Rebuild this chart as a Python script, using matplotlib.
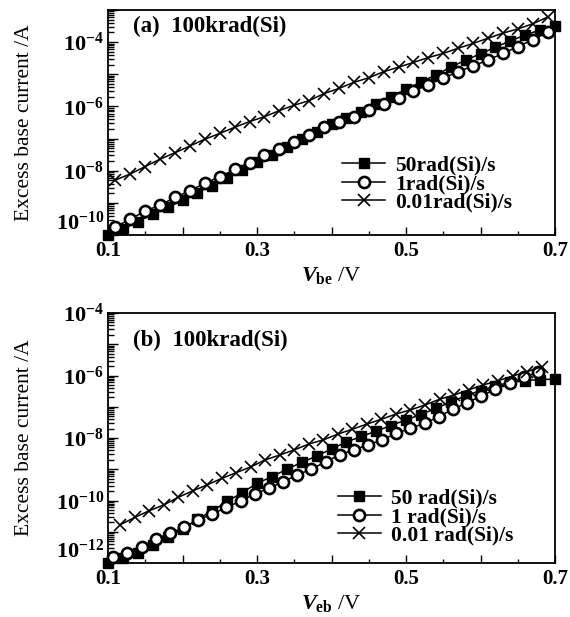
import matplotlib

matplotlib.use("Agg")
import matplotlib.pyplot as plt  # noqa: E402
import numpy as np  # noqa: E402
from matplotlib.ticker import FixedLocator, LogLocator, NullFormatter, FixedFormatter  # noqa: E402

plt.rcParams["font.family"] = ["Liberation Serif", "DejaVu Serif"]
plt.rcParams["mathtext.fontset"] = "custom"
plt.rcParams["mathtext.rm"] = "Liberation Serif:bold"
plt.rcParams["mathtext.it"] = "Liberation Serif:italic:bold"
plt.rcParams["mathtext.bf"] = "Liberation Serif:bold"

LABELS_A = ["50rad(Si)/s", "1rad(Si)/s", "0.01rad(Si)/s"]
LABELS_B = ["50 rad(Si)/s", "1 rad(Si)/s", "0.01 rad(Si)/s"]

# panel (a): V_be in volts, log10 of excess base current in A
a_sq_x = [0.10, 0.12, 0.14, 0.16, 0.18, 0.20, 0.22, 0.24, 0.26, 0.28, 0.30, 0.32, 0.34, 0.36, 0.38, 0.40,
          0.42, 0.44, 0.46, 0.48, 0.50, 0.52, 0.54, 0.56, 0.58, 0.60, 0.62, 0.64, 0.66, 0.68, 0.70]
a_sq_log = [-10.00, -9.82, -9.58, -9.36, -9.14, -8.92, -8.68, -8.46, -8.22, -7.98, -7.74, -7.50, -7.26, -7.02,
            -6.78, -6.56, -6.37, -6.16, -5.93, -5.71, -5.47, -5.24, -5.02, -4.78, -4.56, -4.36, -4.16, -3.96,
            -3.78, -3.62, -3.50]
a_ci_x = [0.11, 0.13, 0.15, 0.17, 0.19, 0.21, 0.23, 0.25, 0.27, 0.29, 0.31, 0.33, 0.35, 0.37, 0.39, 0.41,
          0.43, 0.45, 0.47, 0.49, 0.51, 0.53, 0.55, 0.57, 0.59, 0.61, 0.63, 0.65, 0.67, 0.69]
a_ci_log = [-9.74, -9.51, -9.25, -9.07, -8.83, -8.62, -8.39, -8.19, -7.96, -7.75, -7.51, -7.33, -7.10, -6.89,
            -6.65, -6.49, -6.32, -6.11, -5.93, -5.73, -5.52, -5.33, -5.12, -4.92, -4.74, -4.56, -4.35, -4.14,
            -3.93, -3.69]
a_cr_x = a_ci_x
a_cr_log = [-8.29, -8.10, -7.87, -7.64, -7.44, -7.23, -7.02, -6.84, -6.65, -6.47, -6.32, -6.13, -5.96, -5.82,
            -5.60, -5.44, -5.25, -5.11, -4.92, -4.78, -4.63, -4.48, -4.35, -4.19, -4.04, -3.88, -3.72, -3.59,
            -3.43, -3.22]

# panel (b): V_eb in volts
b_sq_x = a_sq_x
b_sq_log = [-12.00, -11.85, -11.67, -11.42, -11.18, -10.92, -10.60, -10.33, -10.03, -9.75, -9.45, -9.24, -9.00,
            -8.78, -8.58, -8.35, -8.13, -7.95, -7.78, -7.60, -7.42, -7.25, -7.05, -6.85, -6.65, -6.48, -6.33,
            -6.22, -6.16, -6.13, -6.12]
b_ci_x = [0.107, 0.126, 0.145, 0.164, 0.183, 0.202, 0.221, 0.240, 0.259, 0.278, 0.297, 0.316, 0.335, 0.354,
          0.373, 0.392, 0.411, 0.430, 0.449, 0.468, 0.487, 0.506, 0.525, 0.544, 0.563, 0.582, 0.601, 0.620,
          0.639, 0.658, 0.677]
b_ci_log = [-11.80, -11.67, -11.48, -11.24, -11.05, -10.86, -10.62, -10.43, -10.22, -10.02, -9.79, -9.61, -9.40,
            -9.18, -9.00, -8.76, -8.54, -8.38, -8.22, -8.06, -7.85, -7.69, -7.53, -7.32, -7.08, -6.87, -6.66,
            -6.44, -6.25, -6.06, -5.88]
b_cr_x = [0.116, 0.136, 0.155, 0.175, 0.194, 0.214, 0.233, 0.253, 0.272, 0.292, 0.311, 0.331, 0.350, 0.370,
          0.389, 0.409, 0.428, 0.448, 0.467, 0.487, 0.506, 0.526, 0.545, 0.565, 0.584, 0.604, 0.623, 0.643,
          0.662, 0.682]
b_cr_log = [-10.78, -10.54, -10.33, -10.14, -9.90, -9.69, -9.50, -9.29, -9.11, -8.92, -8.70, -8.54, -8.38,
            -8.19, -8.06, -7.87, -7.72, -7.55, -7.40, -7.23, -7.10, -6.94, -6.76, -6.62, -6.46, -6.30, -6.17,
            -6.02, -5.88, -5.72]

X_TICKS = [0.1, 0.2, 0.3, 0.4, 0.5, 0.6, 0.7]
X_TICK_LABELS = ["0.1", "", "0.3", "", "0.5", "", "0.7"]


def draw_panel(ax, series, labels, ylim_exp, ytick_exp, title, title_y, xlabel, legend_anchor):
    markers = [
        dict(marker="s", markersize=7.5, markerfacecolor="black", markeredgecolor="black"),
        dict(marker="o", markersize=8, markerfacecolor="white", markeredgecolor="black", markeredgewidth=1.9),
        dict(marker="x", markersize=8, markeredgecolor="black", markeredgewidth=1.2),
    ]
    for (x, ylog), style, label in zip(series, markers, labels):
        ax.plot(x, 10.0 ** np.asarray(ylog), color="black", lw=1.1, label=label, clip_on=False, **style)

    ax.set_yscale("log")
    ax.set_xlim(0.1, 0.7)
    ax.set_ylim(10.0 ** ylim_exp[0], 10.0 ** ylim_exp[1])

    ax.xaxis.set_major_locator(FixedLocator(X_TICKS))
    ax.xaxis.set_major_formatter(FixedFormatter(X_TICK_LABELS))
    ax.xaxis.set_minor_locator(FixedLocator([0.15, 0.25, 0.35, 0.45, 0.55, 0.65]))

    decades = list(range(ylim_exp[0], ylim_exp[1] + 1))
    ax.yaxis.set_major_locator(FixedLocator([10.0 ** d for d in decades]))
    ax.yaxis.set_major_formatter(FixedFormatter(
        [rf"$10^{{{d}}}$" if d in ytick_exp else "" for d in decades]))
    ax.yaxis.set_minor_locator(LogLocator(base=10, subs=np.arange(2, 10), numticks=50))
    ax.yaxis.set_minor_formatter(NullFormatter())

    ax.tick_params(axis="both", which="both", direction="in", top=False, right=False, width=1.0)
    ax.tick_params(axis="x", which="major", length=6, labelsize=15, pad=4)
    ax.tick_params(axis="x", which="minor", length=3)
    ax.tick_params(axis="y", which="major", length=7, labelsize=16, pad=3)
    ax.tick_params(axis="y", which="minor", length=4)
    for lab in ax.get_xticklabels():
        lab.set_fontweight("bold")
    # lowest decade label sits above the corner, as in the original
    ax.get_yticklabels()[0].set_verticalalignment("bottom")
    for spine in ax.spines.values():
        spine.set_linewidth(1.3)

    ax.text(0.055, title_y, title, transform=ax.transAxes, fontsize=16.5, fontweight="bold", va="center")
    ax.set_xlabel(xlabel, fontsize=16, labelpad=3)
    ax.set_ylabel("Excess base current /A", fontsize=15.5)
    ax.yaxis.set_label_coords(-0.165, 0.5)

    ax.legend(loc="upper left", bbox_to_anchor=legend_anchor, frameon=False,
              handlelength=2.0, handletextpad=0.45, labelspacing=-0.08, borderpad=0,
              prop={"weight": "bold", "size": 15.5})


fig = plt.figure(figsize=(5.7, 6.17), dpi=100)
ax_a = fig.add_axes([108 / 570, 1 - 235 / 617, 447 / 570, 225 / 617])
ax_b = fig.add_axes([108 / 570, 1 - 563 / 617, 447 / 570, 250 / 617])

draw_panel(ax_a, [(a_sq_x, a_sq_log), (a_ci_x, a_ci_log), (a_cr_x, a_cr_log)], LABELS_A,
           (-10, -3), (-10, -8, -6, -4), "(a)  100krad(Si)", 0.925, r"$V_{\mathrm{be}}$ /V", (0.50, 0.40))
draw_panel(ax_b, [(b_sq_x, b_sq_log), (b_ci_x, b_ci_log), (b_cr_x, b_cr_log)], LABELS_B,
           (-12, -4), (-12, -10, -8, -6, -4), "(b)  100krad(Si)", 0.89, r"$V_{\mathrm{eb}}$ /V", (0.49, 0.34))

fig.savefig("out.png", dpi=100)
